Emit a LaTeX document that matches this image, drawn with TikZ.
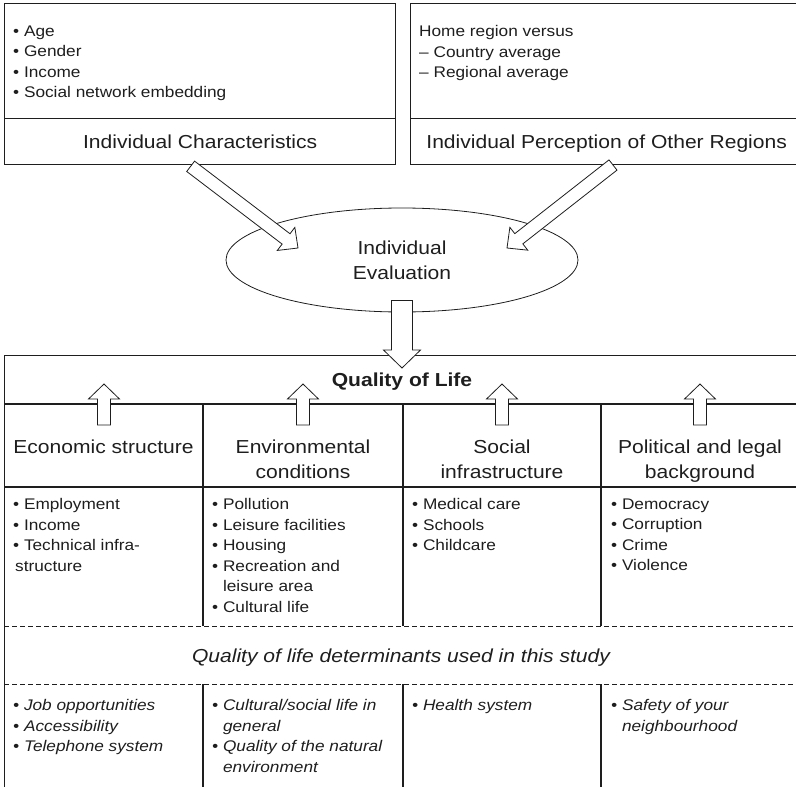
\documentclass[tikz,border=0pt]{standalone}
\usepackage{fontspec}
\setmainfont{Liberation Sans}[FakeStretch=1.12]
\usepackage{tikz}
\usetikzlibrary{positioning,shapes.geometric,calc}
\definecolor{ink}{HTML}{1E1E1E}

\newcommand{\bullitem}{\textbullet\ }
\newcommand{\bullhang}{\phantom{\textbullet\ }}

\tikzset{
  frame/.style={
    rectangle,
    draw=ink,
    line width=1.3pt,
    inner sep=0pt,
    anchor=north west
  },
  title/.style={
    font=\fontsize{18.8}{25}\selectfont,
    text=ink,
    text depth=0pt,
    inner sep=0pt
  },
  heading/.style={
    font=\fontsize{18.8}{25}\selectfont,
    text=ink,
    align=center,
    inner sep=0pt,
    anchor=north
  },
  listing/.style={
    font=\fontsize{15.4}{20.5}\selectfont,
    text=ink,
    align=left,
    inner sep=0pt,
    anchor=north west
  },
  rule/.style={draw=ink, line width=1.3pt},
  dashrule/.style={draw=ink, line width=1pt, dash pattern=on 4.5pt off 3.5pt},
  fat/.style n args={3}{
    draw=ink, fill=white, line width=0.8pt, line join=miter,
    to path={
      ($(\tikztostart)!#1!90:(\tikztotarget)$)
      -- ($($(\tikztotarget)!#3!(\tikztostart)$)!#1!90:(\tikztotarget)$)
      -- ($($(\tikztotarget)!#3!(\tikztostart)$)!#2!90:(\tikztotarget)$)
      -- (\tikztotarget)
      -- ($($(\tikztotarget)!#3!(\tikztostart)$)!#2!-90:(\tikztotarget)$)
      -- ($($(\tikztotarget)!#3!(\tikztostart)$)!#1!-90:(\tikztotarget)$)
      -- ($(\tikztostart)!#1!-90:(\tikztotarget)$)
      -- cycle
    }
  }
}

\begin{document}
\begin{tikzpicture}[x=1pt, y=-1pt]

\useasboundingbox (0,0) rectangle (796,787);

% top boxes
\node[frame, minimum width=391pt, minimum height=115pt] (charlist) at (4,3) {};
\node[frame, title, minimum width=391pt, minimum height=46pt] (chartitle) at (4,118) {Individual Characteristics};
\node[frame, minimum width=392pt, minimum height=115pt] (perclist) at (410,3) {};
\node[frame, title, minimum width=392pt, minimum height=46pt] (pertitle) at (410,118) {Individual Perception of Other Regions};

\node[listing] (chartext) at (13,25.5) {
\bullitem Age\\
\bullitem Gender\\
\bullitem Income\\
\bullitem Social network embedding
};
\node[listing] (pertext) at (419,25.5) {
Home region versus\\
-- Country average\\
-- Regional average
};

\node[ellipse, draw=ink, line width=0.8pt, minimum width=352pt, minimum height=104pt,
  font=\fontsize{18.8}{25}\selectfont, text=ink, align=center] (evaluation) at (402,260) {
Individual\\
Evaluation
};

% quality of life table
\node[frame, minimum width=800pt, minimum height=440pt] (qol) at (4,355) {};
\node[title, font=\fontsize{18.8}{25}\selectfont\bfseries] (qoltitle) at (402,380) {Quality of Life};

\draw[rule] (4,404) -- (804,404);
\draw[rule] (4,487) -- (804,487);
\draw[rule] (203,404) -- (203,626) (403,404) -- (403,626) (601,404) -- (601,626);
\draw[rule] (203,684) -- (203,795) (403,684) -- (403,795) (601,684) -- (601,795);
\draw[dashrule] (4,626) -- (804,626);
\draw[dashrule] (4,684) -- (804,684);

\node[heading] (econ) at (103.5,440) {Economic structure};
\node[heading] (envir) at (303,440) {Environmental\\conditions};
\node[heading] (social) at (502,440) {Social\\infrastructure};
\node[heading] (polit) at (700,440) {Political and legal\\background};

\node[listing] (econlist) at (13,498.5) {
\bullitem Employment\\
\bullitem Income\\
\bullitem Technical infra-\\
\hspace*{2pt}structure
};
\node[listing] (envirlist) at (212,498.5) {
\bullitem Pollution\\
\bullitem Leisure facilities\\
\bullitem Housing\\
\bullitem Recreation and\\
\bullhang leisure area\\
\bullitem Cultural life
};
\node[listing] (sociallist) at (412,498.5) {
\bullitem Medical care\\
\bullitem Schools\\
\bullitem Childcare
};
\node[listing] (politlist) at (611,498.5) {
\bullitem Democracy\\
\bullitem Corruption\\
\bullitem Crime\\
\bullitem Violence
};

\node[title, font=\fontsize{18.8}{25}\selectfont\itshape] (used) at (401,656) {Quality of life determinants used in this study};

\node[listing, font=\fontsize{15.4}{20.5}\selectfont\itshape] (econused) at (13,699.5) {
\bullitem Job opportunities\\
\bullitem Accessibility\\
\bullitem Telephone system
};
\node[listing, font=\fontsize{15.4}{20.5}\selectfont\itshape] (envirused) at (212,699.5) {
\bullitem Cultural/social life in\\
\bullhang general\\
\bullitem Quality of the natural\\
\bullhang environment
};
\node[listing, font=\fontsize{15.4}{20.5}\selectfont\itshape] (socialused) at (412,699.5) {
\bullitem Health system
};
\node[listing, font=\fontsize{15.4}{20.5}\selectfont\itshape] (politused) at (611,699.5) {
\bullitem Safety of your\\
\bullhang neighbourhood
};

% block arrows
\coordinate (lefttail) at ([xshift=-9.5pt, yshift=-1pt]chartitle.south);
\coordinate (lefttip) at ([xshift=-104pt, yshift=12pt]evaluation.center);
\coordinate (righttail) at (613,165);
\coordinate (righttip) at ([xshift=105pt, yshift=12pt]evaluation.center);
\coordinate (downtail) at ([yshift=12pt]evaluation.south);
\coordinate (downtip) at (402,368);

\draw[fat={6.5pt}{14.5pt}{15pt}] (lefttail) to (lefttip);
\draw[fat={6.5pt}{14.5pt}{15pt}] (righttail) to (righttip);
\draw[fat={10.5pt}{18.5pt}{18pt}] (downtail) to (downtip);

\coordinate (econtail) at (104,425);
\coordinate (envirtail) at (303,425);
\coordinate (socialtail) at (502,425);
\coordinate (polittail) at (700,425);

\draw[fat={6.5pt}{15.5pt}{15pt}] (econtail) to (econtail |- 0,384);
\draw[fat={6.5pt}{15.5pt}{15pt}] (envirtail) to (envirtail |- 0,384);
\draw[fat={6.5pt}{15.5pt}{15pt}] (socialtail) to (socialtail |- 0,384);
\draw[fat={6.5pt}{15.5pt}{15pt}] (polittail) to (polittail |- 0,384);

\end{tikzpicture}
\end{document}
